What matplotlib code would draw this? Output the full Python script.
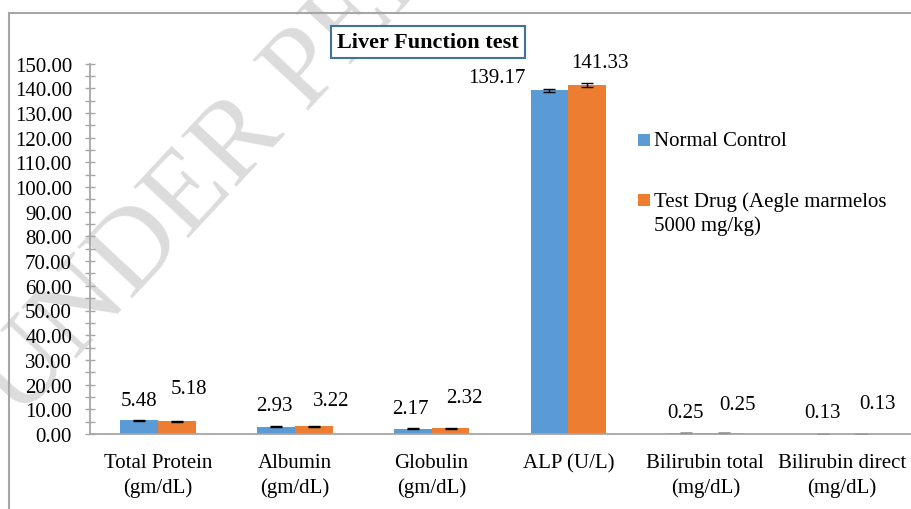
import matplotlib
matplotlib.use("Agg")
import matplotlib.pyplot as plt
import numpy as np
from matplotlib.patches import Rectangle
from matplotlib.ticker import MultipleLocator, FormatStrFormatter

plt.rcParams["font.family"] = ["Liberation Serif", "DejaVu Serif"]

# data
categories = ["Total Protein\n(gm/dL)", "Albumin\n(gm/dL)", "Globulin\n(gm/dL)",
              "ALP (U/L)", "Bilirubin total\n(mg/dL)", "Bilirubin direct\n(mg/dL)"]
normal_control = [5.48, 2.93, 2.17, 139.17, 0.25, 0.13]
test_drug = [5.18, 3.22, 2.32, 141.33, 0.25, 0.13]
normal_err = [0.25, 0.15, 0.12, 0.6, 0.02, 0.01]
test_err = [0.22, 0.2, 0.15, 0.7, 0.02, 0.01]
series_names = ["Normal Control", "Test Drug (Aegle marmelos\n5000 mg/kg)"]

# label offsets (pixels) from bar top centre
normal_lbl_off = [(0, 20), (-1, 21), (-2, 20), (-53, 13), (-1, 21), (-1, 21)]
test_lbl_off = [(12, 33), (17, 26), (14, 31), (13, 22), (13, 29), (16, 30)]

W, H = 911, 510
blue = "#5B9BD5"
orange = "#ED7D31"
gray = "#a6a6a6"


def fpx(x, y):
    # pixel (from top-left) -> figure fraction
    return x / W, 1 - y / H


fig = plt.figure(figsize=(W / 100, H / 100), dpi=100)

# watermark
wx, wy = fpx(-2, 402)
fig.text(wx, wy, "UNDER PEER REVIEW", fontsize=82, color="#dcdcdc",
         rotation=47, rotation_mode="anchor", ha="left", va="center", zorder=-1)

ax = fig.add_axes([89.5 / W, 1 - 435 / H, 821 / W, (435 - 64.5) / H])
ax.patch.set_alpha(0)

x = np.arange(len(categories))
bw = 0.277
ekw = dict(ecolor="black", elinewidth=1.0, capsize=4, capthick=1.0)
b1 = ax.bar(x - bw / 2, normal_control, bw, color=blue, yerr=normal_err,
            error_kw=ekw, label=series_names[0])
b2 = ax.bar(x + bw / 2, test_drug, bw, color=orange, yerr=test_err,
            error_kw=ekw, label=series_names[1])

# value labels
for i in range(len(categories)):
    dx, dy = normal_lbl_off[i]
    ax.annotate("%.2f" % normal_control[i], xy=(x[i] - bw / 2, normal_control[i]),
                xytext=(dx * 0.72, dy * 0.72), textcoords="offset points",
                ha="center", va="center", fontsize=15)
    dx, dy = test_lbl_off[i]
    ax.annotate("%.2f" % test_drug[i], xy=(x[i] + bw / 2, test_drug[i]),
                xytext=(dx * 0.72, dy * 0.72), textcoords="offset points",
                ha="center", va="center", fontsize=15)

ax.set_xlim(-0.5, len(categories) - 0.5)
ax.set_ylim(0, 150)
ax.yaxis.set_major_locator(MultipleLocator(10))
ax.yaxis.set_minor_locator(MultipleLocator(5))
ax.yaxis.set_major_formatter(FormatStrFormatter("%.2f"))
ax.tick_params(axis="y", which="both", direction="inout", length=7.2, width=1,
               color=gray, labelsize=15, pad=9)
ax.set_xticks(x)
ax.set_xticklabels(categories, linespacing=1.3)
ax.tick_params(axis="x", length=0, labelsize=15, pad=14)

for s in ["top", "right"]:
    ax.spines[s].set_visible(False)
for s in ["left", "bottom"]:
    ax.spines[s].set_color(gray)
    ax.spines[s].set_linewidth(1.3)

# legend drawn by hand
legend_rows = [(141, 0), (201, 1)]
for y, k in legend_rows:
    sx, sy = fpx(638, y + 6)
    fig.add_artist(Rectangle((sx, sy), 12 / W, 12 / H, transform=fig.transFigure,
                             facecolor=[blue, orange][k], edgecolor="none"))
    tx, ty = fpx(654, y - 9)
    fig.text(tx, ty, series_names[k], fontsize=15, ha="left", va="top",
             linespacing=1.3)

# title
tx, ty = fpx(428, 43)
fig.text(tx, ty, "Liver Function test", fontsize=16, fontweight="bold",
         ha="center", va="center",
         bbox=dict(boxstyle="square,pad=0.27", facecolor="white",
                   edgecolor="#41719c", linewidth=1.5))

# chart border
bx, by = fpx(9, 14)
fig.add_artist(Rectangle((bx, -0.1), 1.2, by + 0.1, transform=fig.transFigure,
                         fill=False, edgecolor=gray, linewidth=1.5))

fig.savefig("out.png", dpi=100)
